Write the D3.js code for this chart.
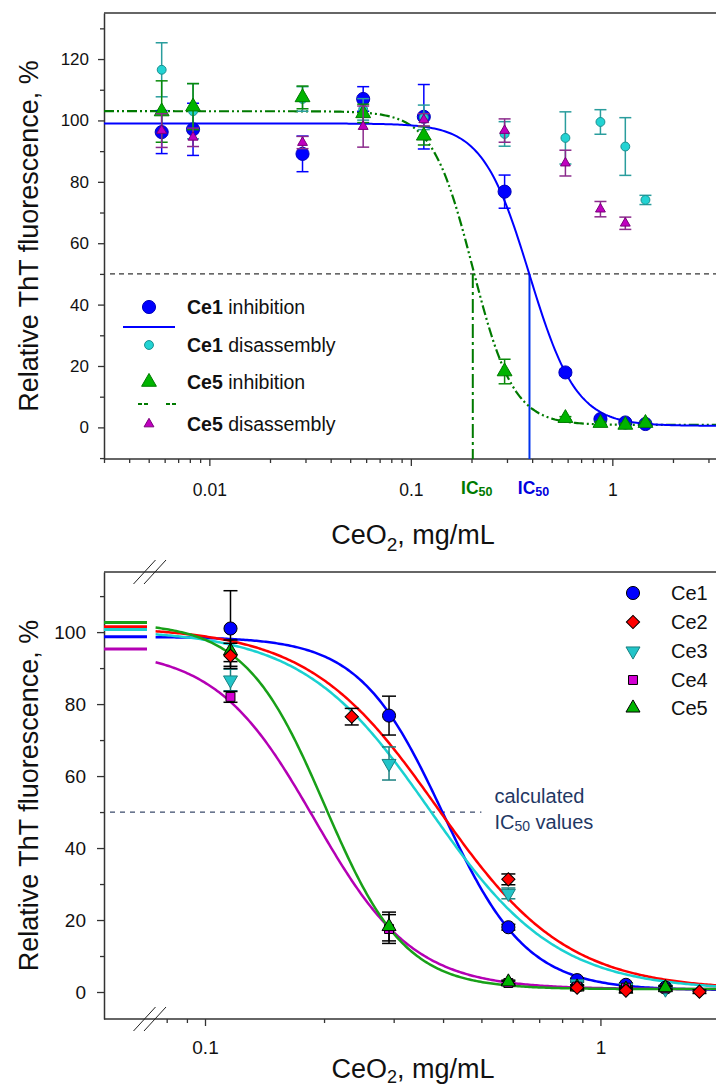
<!DOCTYPE html>
<html lang="en">
<head>
<meta charset="UTF-8">
<title>ThT fluorescence vs CeO2</title>
<script src="https://d3js.org/d3.v7.min.js"></script>
<style>
  body { margin: 0; background: #fff; }
  svg { display: block; font-family: "Liberation Sans", Arial, sans-serif; }
</style>
</head>
<body>
<svg id="chart" width="716" height="1090"></svg>
<script>
// ---------- top panel: inhibition / disassembly ----------
const topConc = [0.0058, 0.0083, 0.029, 0.058, 0.116, 0.292, 0.585, 0.873, 1.16, 1.46];
const ce1Inhib     = [96.2, 97.1, 89.1, 107.0, 101.2, 76.8, 17.9, 2.7, 1.6, 1.1];
const ce1InhibErr  = [7, 8.5, 5.8, 4, 10.5, 5.4, 1, 0.8, 0.5, 0.5];
const ce1Disas     = [116.5, 103, 107, 103.6, 101, 95.6, 94.3, 99.5, 91.5, 74.1];
const ce1DisasErr  = [8.8, 9, 4, 3.5, 4, 4, 8.5, 4, 9.4, 1.5];
const ce5Inhib     = [102.9, 104.5, 107.5, 102.3, 95.0, 18.2, 3.0, 1.4, 0.8, 1.4];
const ce5InhibErr  = [10, 7.5, 3.7, 3, 3, 4, 0.5, 0.5, 0.5, 0.5];
const ce5Disas     = [96.7, 94.5, 92.8, 98.0, 100.2, 96.7, 86.1, 71.1, 66.5, null];
const ce5DisasErr  = [5.5, 3, 2, 6.7, 2, 3.8, 4.2, 2.5, 2, 0];
// fitted Hill curves: [top, bottom, IC50, slope]
const ce1FitTop = [99, 0.5, 0.388, 3.75];
const ce5FitTop = [103, 0.8, 0.203, 4.3];
const topYTicks = [0, 20, 40, 60, 80, 100, 120];
const topYMinor = [-10, 10, 30, 50, 70, 90, 110, 130];
const topXLabels = [0.01, 0.1, 1];
const topLegendName = ['Ce1', 'Ce1', 'Ce5', 'Ce5'];
const topLegendKind = ['inhibition', 'disassembly', 'inhibition', 'disassembly'];

// ---------- bottom panel: all samples ----------
const names = ['Ce1', 'Ce2', 'Ce3', 'Ce4', 'Ce5'];
const concB = [
  [0.116, 0.292, 0.585, 0.873, 1.16, 1.46],
  [0.116, 0.235, 0.585, 0.873, 1.16, 1.78],
  [0.116, 0.292, 0.585, 0.873, 1.16, 1.46],
  [0.116, 0.292, 0.585, 0.873, 1.16, 1.46],
  [0.116, 0.292, 0.585, 0.873, 1.16, 1.46]
];
const valB = [
  [101.0, 76.8, 18.0, 3.3, 2.0, 1.2],
  [93.4, 76.5, 31.3, 1.2, 0.4, 0.1],
  [86.7, 63.5, 27.4, 2.3, 1.2, 0.8],
  [82.0, 17.5, 2.5, 1.5, 1.2, 1.0],
  [94.8, 18.2, 2.8, 1.4, 0.8, 1.2]
];
const errB = [
  [10.5, 5.4, 0.8, 0.5, 0.5, 0.5],
  [3.5, 2.3, 1.5, 0.5, 0.5, 0.5],
  [3, 4.6, 1.5, 0.5, 0.5, 0.5],
  [1.5, 4, 0.5, 0.5, 0.5, 0.5],
  [3, 4, 0.5, 0.5, 0.5, 0.5]
];
const fitB = [
  [98.7, 0.5, 0.400, 4.1],
  [101.5, 0.5, 0.388, 2.65],
  [100.7, 0.5, 0.370, 2.7],
  [95.3, 0.8, 0.189, 3.47],
  [102.7, 0.8, 0.201, 4.3]
];
const botYTicks = [0, 20, 40, 60, 80, 100];
const botYMinor = [10, 30, 50, 70, 90, 110];
const botXLabels = [0.1, 1];

// ---------- styles ----------
const lineCol = ['#0000ff', '#ff0000', '#1ad1d1', '#b400b4', '#18a018'];
const fillCol = ['#0000ff', '#ff0000', '#22c4c8', '#d400d4', '#00b400'];
const edgeCol = ['#000', '#000', '#1a8080', '#000', '#000'];
const errCol  = ['#000', '#000', '#1a8080', '#000', '#000'];
const symType = [d3.symbolCircle, d3.symbolSquare, d3.symbolTriangle, d3.symbolSquare, d3.symbolTriangle];
const symSize = [135, 88, 85, 80, 85];
const symRot  = [0, 45, 180, 0, 0];
const drawOrder = [0, 2, 3, 4, 1];
const axisCol = '#333';

const svg = d3.select('#chart');
const hill = (p, c) => p[1] + (p[0] - p[1]) / (1 + Math.pow(c / p[2], p[3]));
const logSamples = (lo, hi, n) => d3.range(n + 1).map(i => lo * Math.pow(hi / lo, i / n));

function errorBars(g, xs, ys, es, x, y, color, half) {
  xs.forEach((c, i) => {
    if (ys[i] == null) return;
    const cx = x(c), y1 = y(ys[i] + es[i]), y2 = y(ys[i] - es[i]);
    g.append('line').attr('x1', cx).attr('x2', cx).attr('y1', y1).attr('y2', y2)
      .attr('stroke', color).attr('stroke-width', 1.5);
    [y1, y2].forEach(yy => g.append('line').attr('x1', cx - half).attr('x2', cx + half)
      .attr('y1', yy).attr('y2', yy).attr('stroke', color).attr('stroke-width', 1.5));
  });
}
function markers(g, xs, ys, x, y, type, size, rot, fill, stroke) {
  xs.forEach((c, i) => {
    if (ys[i] == null) return;
    g.append('path').attr('d', d3.symbol().type(type).size(size)())
      .attr('transform', `translate(${x(c)},${y(ys[i])}) rotate(${rot})`)
      .attr('fill', fill).attr('stroke', stroke).attr('stroke-width', 1);
  });
}
function styleAxis(g, fontSize) {
  g.selectAll('path.domain').attr('stroke', axisCol).attr('stroke-width', 1.5);
  g.selectAll('.tick line').attr('stroke', axisCol).attr('stroke-width', 1.3);
  g.selectAll('text').attr('font-size', fontSize).attr('fill', '#111')
    .attr('font-family', '"Liberation Sans", Arial, sans-serif');
}

// =================== TOP PANEL ===================
const T = { left: 104, right: 716, top: 13, bottom: 459 };
const xT = d3.scaleLog().domain([0.003, 3.27]).range([T.left, T.right]);
const yT = d3.scaleLinear().domain([-10.3, 135]).range([T.bottom, T.top]);
const gT = svg.append('g');

// y axis
const yAxT = gT.append('g').attr('transform', `translate(${T.left},0)`)
  .call(d3.axisLeft(yT).tickValues(topYTicks).tickSize(6).tickSizeOuter(0));
styleAxis(yAxT, 17);
yAxT.selectAll('text').attr('x', -15);
gT.append('g').attr('transform', `translate(${T.left},0)`)
  .call(d3.axisLeft(yT).tickValues(topYMinor).tickSize(4).tickFormat(''))
  .call(g => { g.select('.domain').remove(); styleAxis(g, 17); });

// x axis
gT.append('line').attr('x1', T.left).attr('x2', T.right).attr('y1', T.bottom).attr('y2', T.bottom)
  .attr('stroke', axisCol).attr('stroke-width', 1.5);
gT.append('line').attr('x1', T.left).attr('x2', T.right).attr('y1', T.top).attr('y2', T.top)
  .attr('stroke', axisCol).attr('stroke-width', 1.5);
const xAxT = gT.append('g').attr('transform', `translate(0,${T.bottom})`)
  .call(d3.axisBottom(xT).tickValues(topXLabels).tickFormat(d3.format('~g')).tickSize(7));
xAxT.select('.domain').remove();
styleAxis(xAxT, 17.5);
xAxT.selectAll('text').attr('y', 37).attr('dy', null);
gT.append('g').attr('transform', `translate(0,${T.bottom})`)
  .call(d3.axisBottom(xT).tickValues(xT.ticks().filter(d => !topXLabels.includes(+d.toPrecision(3)))).tickSize(4).tickFormat(''))
  .call(g => { g.select('.domain').remove(); styleAxis(g, 17); });

// reference line at 50 %
gT.append('line').attr('x1', T.left + 6).attr('x2', T.right).attr('y1', yT(50)).attr('y2', yT(50))
  .attr('stroke', '#000').attr('stroke-width', 1).attr('stroke-dasharray', '5,4');

// IC50 markers
gT.append('line').attr('x1', xT(ce5FitTop[2])).attr('x2', xT(ce5FitTop[2]))
  .attr('y1', yT(50)).attr('y2', T.bottom)
  .attr('stroke', '#007a00').attr('stroke-width', 2).attr('stroke-dasharray', '14,4,3,4');
gT.append('line').attr('x1', xT(ce1FitTop[2])).attr('x2', xT(ce1FitTop[2]))
  .attr('y1', yT(50)).attr('y2', T.bottom)
  .attr('stroke', '#0033ee').attr('stroke-width', 2);
[[ce5FitTop, '#007a00'], [ce1FitTop, '#0000dd']].forEach(([p, col]) => {
  const t = gT.append('text').attr('x', xT(p[2]) + 4).attr('y', T.bottom + 35)
    .attr('text-anchor', 'middle').attr('font-weight', 'bold').attr('font-size', 17.5).attr('fill', col);
  t.append('tspan').text('IC');
  t.append('tspan').attr('font-size', 12.5).attr('dy', 2).text('50');
});

// fitted curves
const cT = logSamples(0.003, 3.27, 300);
const lineT = p => d3.line().x(c => xT(c)).y(c => yT(hill(p, c)))(cT);
gT.append('path').attr('d', lineT(ce5FitTop)).attr('fill', 'none')
  .attr('stroke', '#007a00').attr('stroke-width', 2.2).attr('stroke-dasharray', '10,3,2,3,2,3');
gT.append('path').attr('d', lineT(ce1FitTop)).attr('fill', 'none')
  .attr('stroke', '#0000ff').attr('stroke-width', 2);

// data points
errorBars(gT, topConc, ce1Inhib, ce1InhibErr, xT, yT, '#0000ff', 6);
markers(gT, topConc, ce1Inhib, xT, yT, d3.symbolCircle, 135, 0, '#0000ff', '#0000bb');
errorBars(gT, topConc, ce1Disas, ce1DisasErr, xT, yT, '#2a9d9d', 6);
markers(gT, topConc, ce1Disas, xT, yT, d3.symbolCircle, 62, 0, '#22d3d3', '#1a8f8f');
errorBars(gT, topConc, ce5Inhib, ce5InhibErr, xT, yT, '#0a8a0a', 6);
markers(gT, topConc, ce5Inhib, xT, yT, d3.symbolTriangle, 95, 0, '#00b400', '#007a00');
errorBars(gT, topConc, ce5Disas, ce5DisasErr, xT, yT, '#8b2a8b', 6);
markers(gT, topConc, ce5Disas, xT, yT, d3.symbolTriangle, 42, 0, '#c000c0', '#7a007a');

// legend
const legT = gT.append('g');
const legRowY = [307, 345, 382, 424];
const legSym = [
  [d3.symbolCircle, 135, '#0000ff', '#0000bb'],
  [d3.symbolCircle, 62, '#22d3d3', '#1a8f8f'],
  [d3.symbolTriangle, 95, '#00b400', '#007a00'],
  [d3.symbolTriangle, 42, '#c000c0', '#7a007a']
];
topLegendName.forEach((n, i) => {
  legT.append('path').attr('d', d3.symbol().type(legSym[i][0]).size(legSym[i][1])())
    .attr('transform', `translate(149,${legRowY[i]})`)
    .attr('fill', legSym[i][2]).attr('stroke', legSym[i][3]);
  const t = legT.append('text').attr('x', 187).attr('y', legRowY[i] + 7).attr('font-size', 19.5).attr('fill', '#111');
  t.append('tspan').attr('font-weight', 'bold').text(n);
  t.append('tspan').text(' ' + topLegendKind[i]);
});
legT.append('line').attr('x1', 123).attr('x2', 175).attr('y1', 327).attr('y2', 327)
  .attr('stroke', '#0000ff').attr('stroke-width', 2);
legT.append('line').attr('x1', 138).attr('x2', 176).attr('y1', 404).attr('y2', 404)
  .attr('stroke', '#007a00').attr('stroke-width', 2.2).attr('stroke-dasharray', '4,2,4,18');

// titles
gT.append('text').attr('transform', `translate(38,${(T.top + T.bottom) / 2}) rotate(-90)`)
  .attr('text-anchor', 'middle').attr('font-size', 27).attr('fill', '#111')
  .text('Relative ThT fluorescence, %');
const xtT = gT.append('text').attr('x', 413).attr('y', 544).attr('text-anchor', 'middle')
  .attr('font-size', 27).attr('fill', '#111');
xtT.append('tspan').text('CeO');
xtT.append('tspan').attr('font-size', 19).attr('dy', 7).text('2');
xtT.append('tspan').attr('dy', -7).text(', mg/mL');

// =================== BOTTOM PANEL ===================
const B = { left: 104, right: 716, top: 572, bottom: 1019, plateauEnd: 147 };
const breakX = [144.5, 155];
const xB = d3.scaleLog().domain([0.075, 1.96]).range([155.6, B.right]);
const yB = d3.scaleLinear().domain([-7.5, 116.7]).range([B.bottom, B.top]);
const gB = svg.append('g');

const yAxB = gB.append('g').attr('transform', `translate(${B.left},0)`)
  .call(d3.axisLeft(yB).tickValues(botYTicks).tickSize(7).tickSizeOuter(0));
styleAxis(yAxB, 19);
yAxB.selectAll('text').attr('x', -18);
gB.append('g').attr('transform', `translate(${B.left},0)`)
  .call(d3.axisLeft(yB).tickValues(botYMinor).tickSize(4).tickFormat(''))
  .call(g => { g.select('.domain').remove(); styleAxis(g, 19); });

gB.append('line').attr('x1', B.left).attr('x2', B.right).attr('y1', B.bottom).attr('y2', B.bottom)
  .attr('stroke', axisCol).attr('stroke-width', 1.5);
gB.append('line').attr('x1', B.left).attr('x2', B.right).attr('y1', B.top).attr('y2', B.top)
  .attr('stroke', axisCol).attr('stroke-width', 1.5);
const xAxB = gB.append('g').attr('transform', `translate(0,${B.bottom})`)
  .call(d3.axisBottom(xB).tickValues(botXLabels).tickFormat(d3.format('~g')).tickSize(7));
xAxB.select('.domain').remove();
styleAxis(xAxB, 19);
xAxB.selectAll('text').attr('y', 35).attr('dy', null);
gB.append('g').attr('transform', `translate(0,${B.bottom})`)
  .call(d3.axisBottom(xB).tickValues(xB.ticks().filter(d => !botXLabels.includes(+d.toPrecision(3)))).tickSize(4).tickFormat(''))
  .call(g => { g.select('.domain').remove(); styleAxis(g, 19); });

// axis break marks
[B.top, B.bottom].forEach(yy => breakX.forEach(bx => {
  gB.append('line').attr('x1', bx - 11).attr('x2', bx + 11).attr('y1', yy + 12).attr('y2', yy - 12)
    .attr('stroke', '#222').attr('stroke-width', 1);
}));

// 50 % line and label
gB.append('line').attr('x1', B.left + 6).attr('x2', xB(0.5)).attr('y1', yB(50)).attr('y2', yB(50))
  .attr('stroke', '#3a4a6b').attr('stroke-width', 1.2).attr('stroke-dasharray', '5,5');
const lab = gB.append('text').attr('font-size', 20).attr('fill', '#1f3864');
lab.append('tspan').attr('x', xB(0.5) + 13).attr('y', yB(50) - 9).text('calculated');
lab.append('tspan').attr('x', xB(0.5) + 13).attr('y', yB(50) + 17).text('IC');
lab.append('tspan').attr('font-size', 14).attr('dy', 2).text('50');
lab.append('tspan').attr('dy', -2).text(' values');

// plateau segments (zero concentration) and fitted curves
const cB = logSamples(0.075, 1.96, 300);
fitB.forEach((p, i) => {
  gB.append('line').attr('x1', B.left).attr('x2', B.plateauEnd).attr('y1', yB(p[0])).attr('y2', yB(p[0]))
    .attr('stroke', lineCol[i]).attr('stroke-width', 3);
  gB.append('path').attr('d', d3.line().x(c => xB(c)).y(c => yB(hill(p, c)))(cB))
    .attr('fill', 'none').attr('stroke', lineCol[i]).attr('stroke-width', 2.5);
});

// data points
drawOrder.forEach(i => {
  errorBars(gB, concB[i], valB[i], errB[i], xB, yB, errCol[i], 7);
  markers(gB, concB[i], valB[i], xB, yB, symType[i], symSize[i], symRot[i], fillCol[i], edgeCol[i]);
});

// legend
const legB = gB.append('g');
const legBY = [593, 622, 651, 680, 708];
names.forEach((n, i) => {
  legB.append('path').attr('d', d3.symbol().type(symType[i]).size(symSize[i])())
    .attr('transform', `translate(633,${legBY[i]}) rotate(${symRot[i]})`)
    .attr('fill', fillCol[i]).attr('stroke', edgeCol[i]);
  legB.append('text').attr('x', 671).attr('y', legBY[i] + 7).attr('font-size', 20).attr('fill', '#111').text(n);
});

// titles
gB.append('text').attr('transform', `translate(38,${(B.top + B.bottom) / 2}) rotate(-90)`)
  .attr('text-anchor', 'middle').attr('font-size', 27).attr('fill', '#111')
  .text('Relative ThT fluorescence, %');
const xtB = gB.append('text').attr('x', 413).attr('y', 1078).attr('text-anchor', 'middle')
  .attr('font-size', 27).attr('fill', '#111');
xtB.append('tspan').text('CeO');
xtB.append('tspan').attr('font-size', 18).attr('dy', 5).text('2');
xtB.append('tspan').attr('dy', -5).text(', mg/mL');
</script>
</body>
</html>
